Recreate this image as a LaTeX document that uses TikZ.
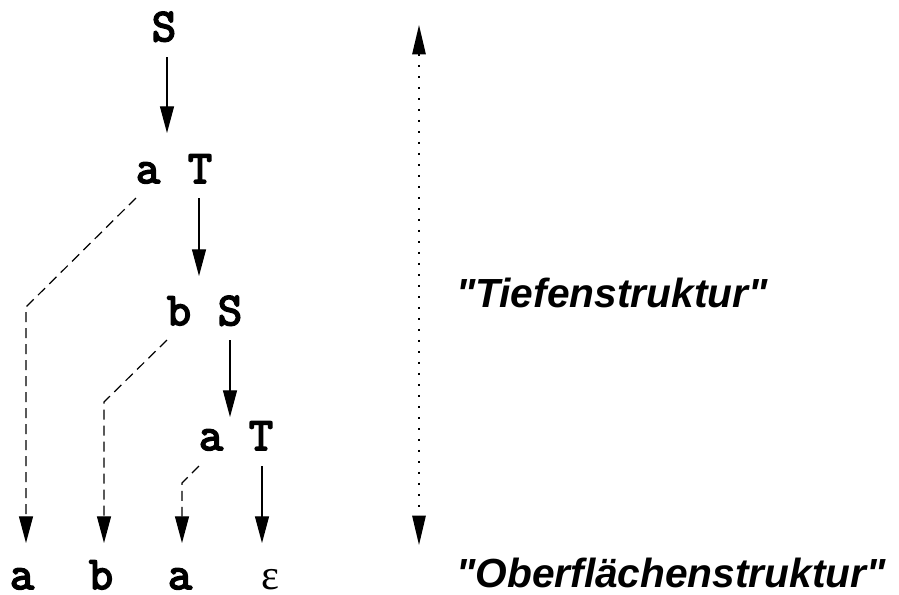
\documentclass[tikz,border=0pt]{standalone}
\usepackage{fontspec}
\newfontfamily\lblfont{Liberation Sans}
\newfontfamily\greekfont{Liberation Serif}
\newfontfamily\symfont{Latin Modern Mono}[FakeBold=4]
\usetikzlibrary{arrows.meta}
\begin{document}
\begin{tikzpicture}[x=0.75pt,y=-0.75pt,
  sym/.style={inner sep=0pt,anchor=base,font=\symfont\fontsize{35}{35}\selectfont},
  lbl/.style={inner sep=0pt,anchor=base west,font=\lblfont\bfseries\itshape\fontsize{30.5}{32}\selectfont},
  derive/.style={line width=0.9pt,-{Triangle[length=20pt,width=10.5pt]}},
  carry/.style={line width=0.9pt,dash pattern=on 7.5pt off 4.5pt,-{Triangle[length=20pt,width=10.5pt]}},
  span/.style={line width=1.3pt,dash pattern=on 1.4pt off 6.85pt,
    {Triangle[length=22pt,width=10pt]}-{Triangle[length=22pt,width=10pt]}}]
\useasboundingbox (0,0) rectangle (899,594);

% derivation tree
\node[sym] (S0) at (164,41) {S};
\node[sym] (a1) at (148,183) {a};
\node[sym] (T1) at (200,183) {T};
\node[sym] (b2) at (179,325) {b};
\node[sym] (S2) at (230,325) {S};
\node[sym] (a3) at (211,450) {a};
\node[sym] (T3) at (261,450) {T};

% terminal string
\node[sym] (ya) at (22,589) {a};
\node[sym] (yb) at (101,589) {b};
\node[sym] (yc) at (180,589) {a};
\node[inner sep=0pt,anchor=base,font=\greekfont\fontsize{32}{32}\selectfont] (ye) at (270,589) {ε};

% end points of the connectors
\coordinate (p0) at (167,57);   \coordinate (p1) at (167,133);
\coordinate (q0) at (199,198);  \coordinate (q1) at (199,276);
\coordinate (r0) at (230,340);  \coordinate (r1) at (230,417);
\coordinate (t0) at (262,466);  \coordinate (t1) at (262,543);
\coordinate (da0) at (136,198); \coordinate (dak) at (26,307);  \coordinate (da1) at (26,543);
\coordinate (db0) at (167,340); \coordinate (dbk) at (104,402); \coordinate (db1) at (104,543);
\coordinate (dc0) at (199,466); \coordinate (dck) at (182,483); \coordinate (dc1) at (182,543);

\draw[derive] (p0) -- (p1);
\draw[derive] (q0) -- (q1);
\draw[derive] (r0) -- (r1);
\draw[derive] (t0) -- (t1);

\draw[carry] (da0) -- (dak) -- (da1);
\draw[carry] (db0) -- (dbk) -- (db1);
\draw[carry] (dc0) -- (dck) -- (dc1);

% levels
\coordinate (top) at (419,25);
\coordinate (bot) at (419,545);
\draw[span] (top) -- (bot);

\node[lbl] (deep) at (456,307) {"Tiefenstruktur"};
\node[lbl] (surf) at (456,587) {"Oberflächenstruktur"};
\end{tikzpicture}
\end{document}
